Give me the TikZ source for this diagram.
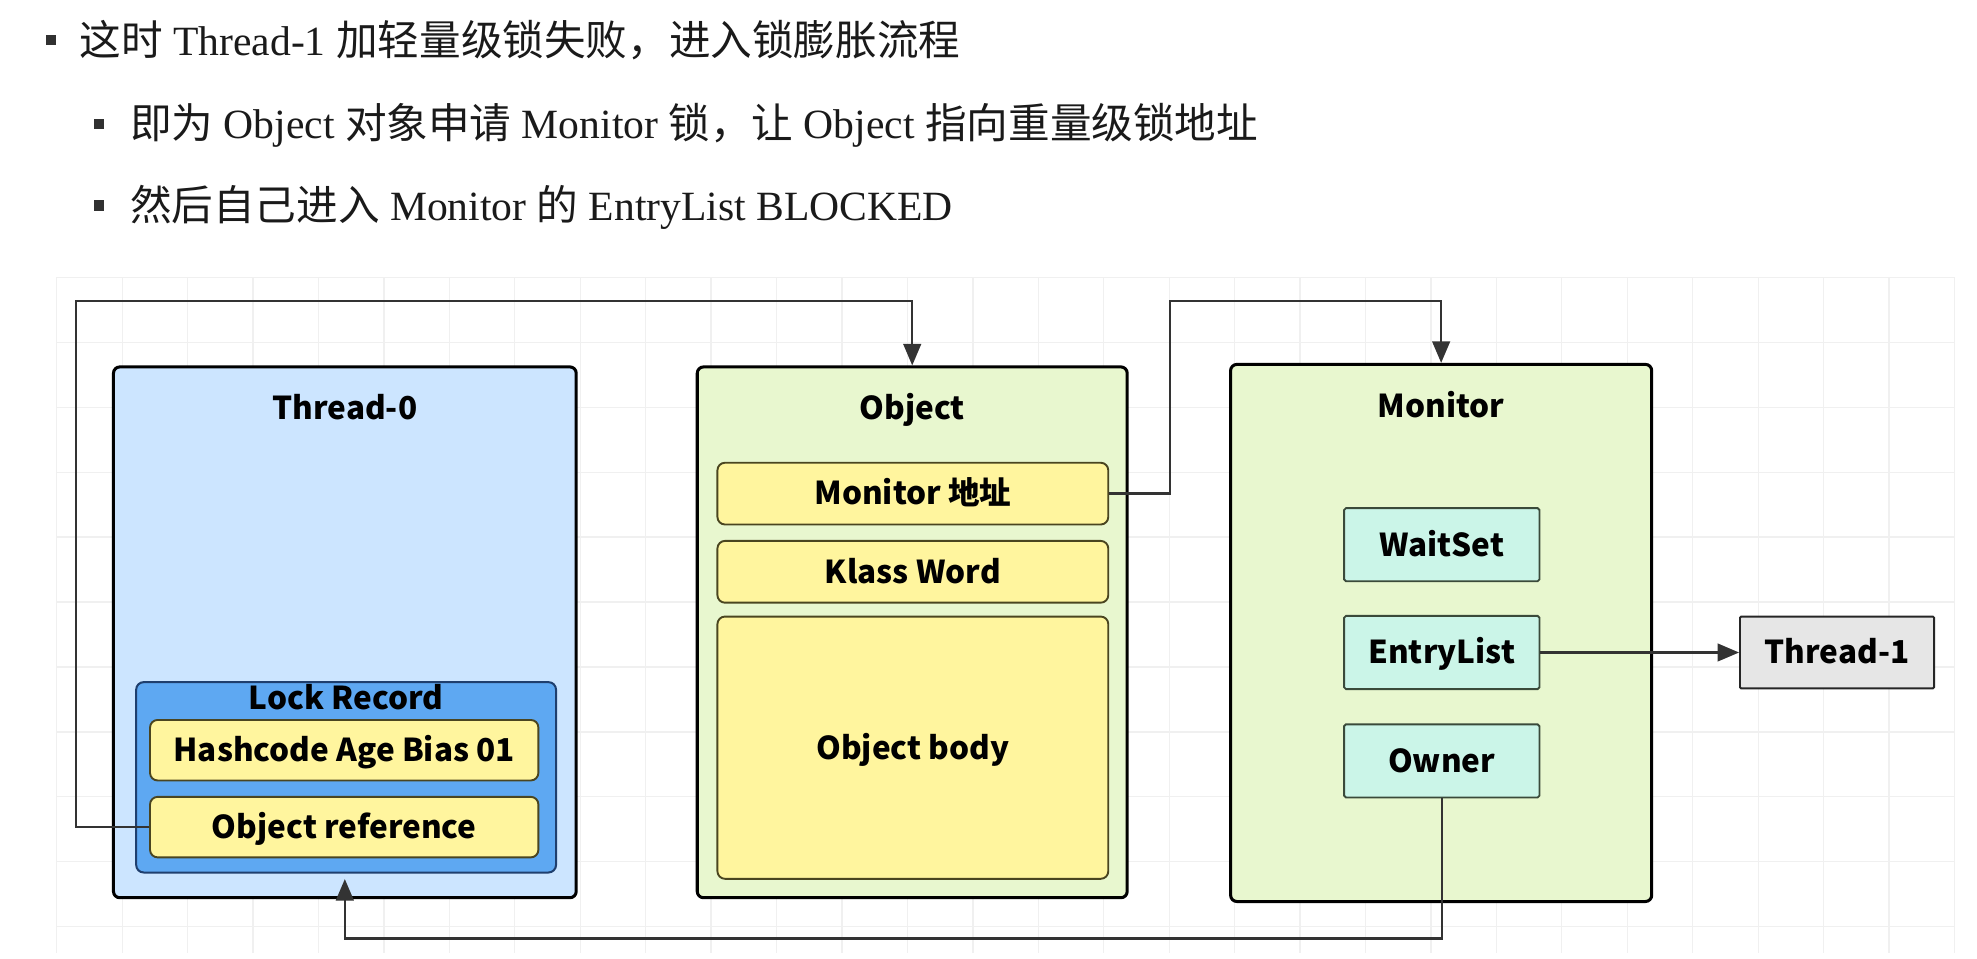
\documentclass[tikz,border=0pt]{standalone}
\usepackage{fontspec}
\setmainfont{Liberation Serif}
\newfontfamily\cjk{Noto Sans CJK SC}
\newfontfamily\dg{Noto Sans CJK SC}
\usetikzlibrary{arrows.meta}
\definecolor{t0fill}{HTML}{CCE5FF}
\definecolor{lrfill}{HTML}{5EA8F2}
\definecolor{lrdraw}{HTML}{1F3F6E}
\definecolor{yfill}{HTML}{FFF59E}
\definecolor{ydraw}{HTML}{4A4520}
\definecolor{gfill}{HTML}{E8F7CF}
\definecolor{cfill}{HTML}{CBF5E8}
\definecolor{cdraw}{HTML}{3A4A3A}
\definecolor{t1fill}{HTML}{E6E6E6}
\definecolor{linec}{HTML}{333333}
\definecolor{gridc}{HTML}{F0F0F0}
\definecolor{hdrc}{HTML}{1A1A1A}
\tikzset{
  dgfont/.style={font=\dg\bfseries\fontsize{25}{30}\selectfont, text=black},
  outerbox/.style={draw=black, line width=2.4pt, rounded corners=5pt, inner sep=0pt},
  lrbox/.style={draw=lrdraw, fill=lrfill, line width=1.6pt, rounded corners=6pt, inner sep=0pt},
  ybox/.style={draw=ydraw, fill=yfill, line width=1.5pt, rounded corners=6pt, inner sep=0pt,
    text height=18pt, text depth=0pt, dgfont},
  cbox/.style={draw=cdraw, fill=cfill, line width=1.5pt, rounded corners=1.5pt, inner sep=0pt,
    minimum width=155pt, minimum height=58pt, text height=18pt, text depth=0pt, dgfont},
  t1box/.style={draw=black!85, fill=t1fill, line width=1.5pt, rounded corners=1pt, inner sep=0pt,
    minimum width=154pt, minimum height=57pt, text height=18pt, text depth=0pt, dgfont},
  title/.style={anchor=base, inner sep=0pt, dgfont},
  conn/.style={draw=linec, line width=1.8pt, -{Triangle[length=17pt,width=14pt]}},
  bulletsq/.style={fill=hdrc!90, minimum size=8pt, inner sep=0pt},
  hdr/.style={anchor=base west, inner sep=0pt, text=hdrc, font=\fontsize{33}{40}\selectfont}
}
\begin{document}
\begin{tikzpicture}[x=1pt,y=1pt]
\useasboundingbox (0,0) rectangle (1568,-760);
\fill[white] (0,0) rectangle (1568,-760);
% background grid
\foreach \i in {0,...,10} \draw[gridc, line width=1pt] (45,-220-51.5*\i) -- (1550,-220-51.5*\i);
\foreach \i in {0,...,29} \draw[gridc, line width=1pt] (45+51.9*\i,-220) -- (45+51.9*\i,-756);

% header
\node[bulletsq] (b1) at (40.5,-32) {};
\node[hdr] (h1) at (63,-44) {{\cjk 这时} Thread-1 {\cjk 加轻量级锁失败，进入锁膨胀流程}};
\node[bulletsq] (b2) at (78.5,-98) {};
\node[hdr] (h2) at (103,-110) {{\cjk 即为} Object {\cjk 对象申请} Monitor {\cjk 锁，让} Object {\cjk 指向重量级锁地址}};
\node[bulletsq] (b3) at (78.5,-163) {};
\node[hdr] (h3) at (103,-175) {{\cjk 然后自己进入} Monitor {\cjk 的} EntryList BLOCKED};

% Thread-0
\node[outerbox, fill=t0fill, minimum width=367pt, minimum height=421pt] (thread0) at (273.5,-501.5) {};
\node[title] (thread0t) at (273.5,-333) {Thread-0};
\node[lrbox, minimum width=333pt, minimum height=151pt] (lockrec) at (274.5,-616.5) {};
\node[title] (lockrect) at (274.5,-563) {Lock Record};
\node[ybox, minimum width=308pt, minimum height=48pt] (hash) at (273,-595) {Hashcode Age Bias 01};
\node[ybox, minimum width=308pt, minimum height=48pt] (objref) at (273,-656) {Object reference};

% Object
\node[outerbox, fill=gfill, minimum width=341pt, minimum height=421pt] (object) at (723.5,-501.5) {};
\node[title] (objectt) at (723.5,-333) {Object};
\node[ybox, minimum width=310pt, minimum height=49pt] (monaddr) at (724,-391.5) {Monitor 地址};
\node[ybox, minimum width=310pt, minimum height=49pt] (klass) at (724,-453.5) {Klass Word};
\node[ybox, minimum width=310pt, minimum height=208pt] (objbody) at (724,-593) {Object body};

% Monitor
\node[outerbox, fill=gfill, minimum width=334pt, minimum height=426pt] (monitor) at (1143,-502) {};
\node[title] (monitort) at (1143,-331) {Monitor};
\node[cbox] (waitset) at (1143.5,-432) {WaitSet};
\node[cbox] (entry) at (1143.5,-517.5) {EntryList};
\node[cbox] (owner) at (1143.5,-603.5) {Owner};

% Thread-1
\node[t1box] (thread1) at (1457,-517.5) {Thread-1};

% connectors
\coordinate (c1) at (60,-239);
\coordinate (c2) at (928,-239);
\draw[conn] (objref.west) -| (c1) -| (object.north);
\draw[conn] (monaddr.east) -| (c2) -| (monitor.north);
\draw[conn] (entry.east) -- (thread1.west);
\draw[conn] (owner.south) -- ++(0,-111) -| ([yshift=16pt]thread0.south);
\end{tikzpicture}
\end{document}
